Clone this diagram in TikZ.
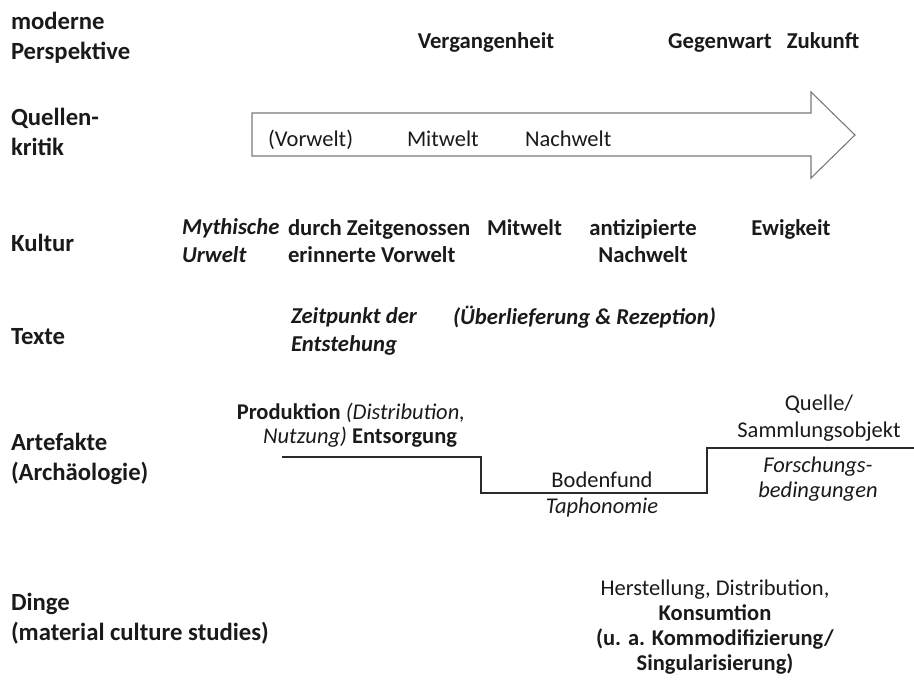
\documentclass[tikz,border=0pt]{standalone}
\usepackage{fontspec}
\setmainfont{Carlito}
\definecolor{txt}{HTML}{1A1A1A}
\definecolor{arrowgray}{HTML}{7A7A7A}
\definecolor{stepgray}{HTML}{2A2A2A}
\begin{document}
\begin{tikzpicture}[x=1pt,y=-1pt,
  every node/.style={inner sep=0pt,outer sep=0pt,text=txt},
  rowlabel/.style={font=\fontsize{24.7}{29.5}\selectfont\bfseries,anchor=base west,align=left},
  head/.style={font=\fontsize{22.7}{27}\selectfont\bfseries,anchor=base},
  inarrow/.style={font=\fontsize{22.5}{27}\selectfont,anchor=base west},
  boldc/.style={font=\fontsize{22.7}{27}\selectfont\bfseries,anchor=base,align=center},
  boldl/.style={font=\fontsize{22.7}{27}\selectfont\bfseries,anchor=base west,align=left},
  bolditl/.style={font=\fontsize{22.7}{28}\selectfont\bfseries\itshape,anchor=base west,align=left},
  regc/.style={font=\fontsize{22.5}{25}\selectfont,anchor=base,align=center},
  itc/.style={font=\fontsize{22.5}{25}\selectfont\itshape,anchor=base,align=center},
  arrowline/.style={draw=arrowgray,line width=1.1pt,fill=white},
  stepline/.style={draw=stepgray,line width=1.8pt}]
\useasboundingbox (0,0) rectangle (914,680);

% row labels (base anchor = baseline of the last line)
\node[rowlabel] (modern) at (11,59) {moderne\\Perspektive};
\node[rowlabel] (quellen) at (11,155) {Quellen-\\kritik};
\node[rowlabel] (kultur) at (11,251) {Kultur};
\node[rowlabel] (texte) at (11,344) {Texte};
\node[rowlabel] (artefakte) at (11,480) {Artefakte\\(Archäologie)};
\node[rowlabel] (dinge) at (11,640) {Dinge\\(material culture studies)};

% moderne Perspektive
\node[head] (verg) at (486,48) {Vergangenheit};
\node[head] (gegen) at (720,48) {Gegenwart};
\node[head] (zuk) at (823,48) {Zukunft};

% Quellenkritik arrow
\draw[arrowline] (252,113) -- (811,113) -- (811,92) -- (855,135)
  -- (811,178) -- (811,156) -- (252,156) -- cycle;
\node[inarrow] (vorwelt) at (268,146) {(Vorwelt)};
\node[inarrow] (mitwelt) at (407,146) {Mitwelt};
\node[inarrow] (nachwelt) at (525,146) {Nachwelt};

% Kultur
\node[bolditl] (mythisch) at (182,262) {Mythische\\Urwelt};
\node[boldl] (durch) at (288,262) {durch Zeitgenossen\\erinnerte Vorwelt};
\node[boldl] (kmitwelt) at (487,235) {Mitwelt};
\node[boldc] (antiz) at (643,262) {antizipierte\\Nachwelt};
\node[head] (ewig) at (791,235) {Ewigkeit};

% Texte
\node[bolditl] (zeitpunkt) at (291,351) {Zeitpunkt der\\Entstehung};
\node[bolditl] (ueber) at (453,324) {(Überlieferung \& Rezeption)};

% Artefakte
\node[font=\fontsize{22.5}{24}\selectfont,anchor=base east,align=right] (prod) at (457,443)
  {\textbf{Produktion} \textit{(Distribution,}\hspace*{-8pt}\\\textit{Nutzung)} \textbf{Entsorgung}};
\coordinate (s0) at (282,457);
\coordinate (s1) at (481,457);
\coordinate (s2) at (481,493);
\coordinate (s3) at (707,493);
\coordinate (s4) at (707,448);
\coordinate (s5) at (914,448);
\draw[stepline] (s0) -- (s1) -- (s2) -- (s3) -- (s4) -- (s5);
\node[regc] (boden) at (602,487) {Bodenfund};
\node[itc] (tapho) at (602,513) {Taphonomie};
\node[regc,font=\fontsize{22.5}{27}\selectfont] (quelle) at (819,437) {Quelle/\\Sammlungsobjekt};
\node[itc] (forsch) at (818,497) {Forschungs-\\bedingungen};

% Dinge
\node[regc] (herst) at (715,670)
  {Herstellung, Distribution,\\\textbf{Konsumtion}\\\textbf{(u. a. Kommodifizierung/}\\\textbf{Singularisierung)}};
\end{tikzpicture}
\end{document}
